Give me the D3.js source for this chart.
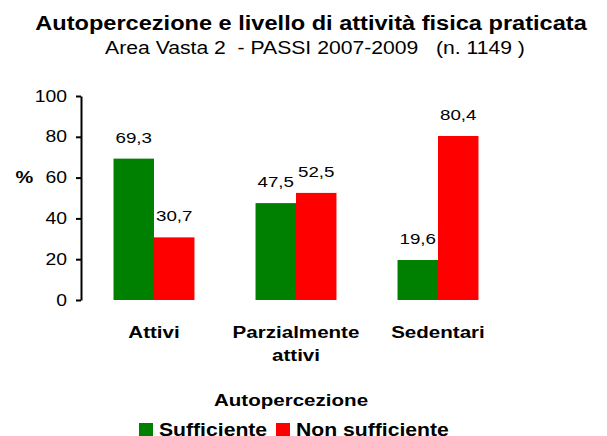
<!DOCTYPE html>
<html>
<head>
<meta charset="utf-8">
<script src="https://cdn.jsdelivr.net/npm/d3@7"></script>
<style>
  body { margin: 0; background: #fff; }
  text { font-family: Arial, "Liberation Sans", sans-serif; fill: #000; }
</style>
</head>
<body>
<svg id="chart"></svg>
<script>
var categories = [["Attivi"], ["Parzialmente", "attivi"], ["Sedentari"]];
var series = ["Sufficiente", "Non sufficiente"];
var sufficiente = [69.3, 47.5, 19.6];
var nonSufficiente = [30.7, 52.5, 80.4];
var yTicks = [0, 20, 40, 60, 80, 100];

// the original text is drawn a bit wider than normal
var K = 1.21;
function stretch(sel) {
    sel.each(function() {
        var t = d3.select(this);
        var x = +t.attr("x") || 0;
        t.attr("x", x / K).attr("transform", "scale(" + K + ",1)");
        t.selectAll("tspan").attr("x", x / K);
    });
}

var color = d3.scaleOrdinal()
    .domain(series)
    .range(["#008000", "#ff0000"]);

var svg = d3.select("#chart")
    .attr("width", 607)
    .attr("height", 436);

var x = d3.scaleBand()
    .domain(categories.map(function(d) { return d.join(" "); }))
    .range([83, 509])
    .paddingInner(0.43)
    .paddingOuter(0.215);

var x1 = d3.scaleBand()
    .domain(series)
    .range([0, x.bandwidth()]);

var y = d3.scaleLinear()
    .domain([0, 100])
    .range([300, 96]);

// titles
svg.append("text")
    .attr("x", 311)
    .attr("y", 30)
    .attr("text-anchor", "middle")
    .style("font-size", "19.5px")
    .style("font-weight", "bold")
    .text("Autopercezione e livello di attività fisica praticata")
    .call(stretch);

svg.append("text")
    .attr("x", 315)
    .attr("y", 54)
    .attr("text-anchor", "middle")
    .style("font-size", "17.5px")
    .style("white-space", "pre")
    .text("Area Vasta 2  - PASSI 2007-2009   (n. 1149 )")
    .call(stretch);

// y axis
var yAxis = svg.append("g")
    .attr("transform", "translate(81,0)")
    .call(d3.axisLeft(y).tickValues(yTicks).tickSize(5).tickPadding(9).tickSizeOuter(0));
yAxis.select(".domain").attr("stroke", "#000").attr("stroke-width", 2);
yAxis.selectAll(".tick line").attr("stroke", "#000").attr("stroke-width", 2);
yAxis.selectAll(".tick text")
    .style("font-size", "16px")
    .style("font-family", "Arial, 'Liberation Sans', sans-serif")
    .attr("fill", "#000")
    .call(stretch);

svg.append("text")
    .attr("x", 24.5)
    .attr("y", 183)
    .attr("text-anchor", "middle")
    .style("font-size", "16.5px")
    .style("font-weight", "bold")
    .text("%")
    .call(stretch);

// bars
var rows = categories.map(function(c, i) {
    return { cat: c.join(" "), values: [
        { key: series[0], value: sufficiente[i] },
        { key: series[1], value: nonSufficiente[i] }
    ] };
});

var group = svg.selectAll(".group")
    .data(rows)
    .enter().append("g")
    .attr("class", "group")
    .attr("transform", function(d) { return "translate(" + x(d.cat) + ",0)"; });

group.selectAll("rect")
    .data(function(d) { return d.values; })
    .enter().append("rect")
    .attr("x", function(d) { return x1(d.key); })
    .attr("y", function(d) { return y(d.value); })
    .attr("width", x1.bandwidth())
    .attr("height", function(d) { return y(0) - y(d.value); })
    .attr("fill", function(d) { return color(d.key); });

group.selectAll(".val")
    .data(function(d) { return d.values; })
    .enter().append("text")
    .attr("class", "val")
    .attr("x", function(d) { return x1(d.key) + x1.bandwidth() / 2; })
    .attr("y", function(d) { return y(d.value) - 16; })
    .attr("text-anchor", "middle")
    .style("font-size", "15.5px")
    .text(function(d) { return d.value.toFixed(1).replace(".", ","); })
    .call(stretch);

// category labels
svg.selectAll(".cat")
    .data(categories)
    .enter().append("text")
    .attr("class", "cat")
    .attr("text-anchor", "middle")
    .attr("x", function(d) { return x(d.join(" ")) + x.bandwidth() / 2; })
    .attr("y", 338)
    .style("font-size", "17px")
    .style("font-weight", "bold")
    .selectAll("tspan")
    .data(function(d) { return d; })
    .enter().append("tspan")
    .attr("dy", function(d, i) { return i === 0 ? 0 : 23; })
    .text(function(d) { return d; });
svg.selectAll(".cat").call(stretch);

// legend
svg.append("text")
    .attr("x", 291)
    .attr("y", 406)
    .attr("text-anchor", "middle")
    .style("font-size", "17px")
    .style("font-weight", "bold")
    .text("Autopercezione")
    .call(stretch);

var legendX = [139, 276];
var legend = svg.selectAll(".legend")
    .data(series)
    .enter().append("g")
    .attr("class", "legend")
    .attr("transform", function(d, i) { return "translate(" + legendX[i] + ",423)"; });

legend.append("rect")
    .attr("width", 14)
    .attr("height", 14)
    .attr("fill", color);

legend.append("text")
    .attr("x", 20)
    .attr("y", 13)
    .style("font-size", "17.5px")
    .style("font-weight", "bold")
    .text(function(d) { return d; })
    .call(stretch);
</script>
</body>
</html>
